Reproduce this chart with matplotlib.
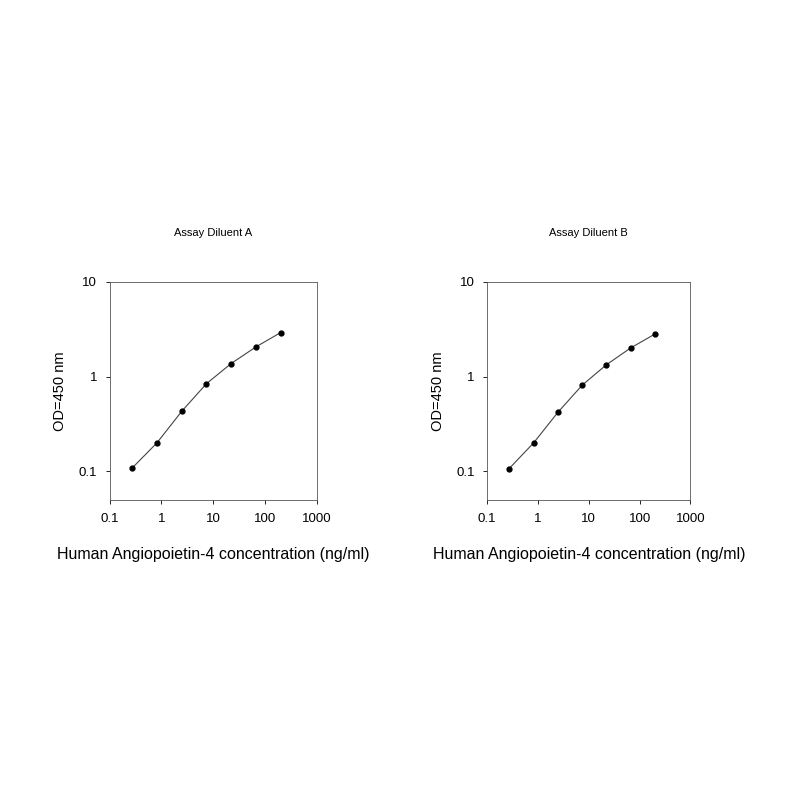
import matplotlib
matplotlib.use("Agg")
import matplotlib.pyplot as plt

plt.rcParams['font.family'] = ['Liberation Sans', 'DejaVu Sans']

conc = [0.27, 0.82, 2.47, 7.4, 22.2, 66.7, 200]
od_a = [0.108, 0.20, 0.43, 0.84, 1.37, 2.05, 2.9]
od_b = [0.107, 0.20, 0.42, 0.81, 1.33, 2.0, 2.8]
titles = ["Assay Diluent A", "Assay Diluent B"]
xticks = [0.1, 1, 10, 100, 1000]
xticklabels = ["0.1", "1", "10", "100", "1000"]
yticks = [0.1, 1, 10]
yticklabels = ["0.1", "1", "10"]

fig = plt.figure(figsize=(8, 8), dpi=100)
positions = [[0.137, 0.375, 0.259, 0.273], [0.609, 0.375, 0.254, 0.273]]
for pos, od, title in zip(positions, [od_a, od_b], titles):
    ax = fig.add_axes(pos)
    ax.plot(conc, od, color='#444444', lw=0.8, marker='o', ms=3.5, mfc='black', mec='black')
    ax.set_xscale('log'); ax.set_yscale('log')
    ax.set_xlim(0.1, 1000); ax.set_ylim(0.05, 10)
    ax.set_xticks(xticks); ax.set_xticklabels(xticklabels, fontsize=9.5)
    ax.set_yticks(yticks); ax.set_yticklabels(yticklabels, fontsize=9.5)
    ax.minorticks_off()
    ax.tick_params(length=3, width=0.6, pad=6)
    for s in ax.spines.values():
        s.set_linewidth(0.6); s.set_color('#555555')
    ax.set_title(title, fontsize=8, pad=33)
    ax.set_ylabel("OD=450 nm", fontsize=10.5, labelpad=8)
    ax.set_xlabel("Human Angiopoietin-4 concentration (ng/ml)", fontsize=11.5, labelpad=16)

fig.savefig("out.png", dpi=100)
